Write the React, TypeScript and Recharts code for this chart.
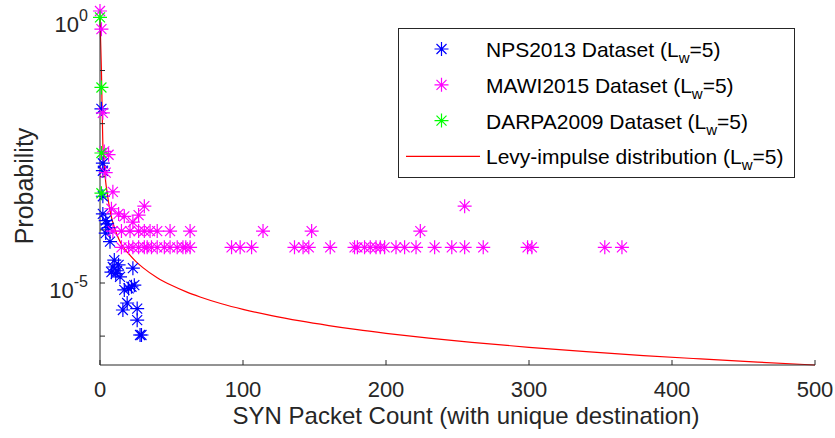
import { ComposedChart, Scatter, Line, XAxis, YAxis, Legend } from "recharts"

// axis ticks
const xTicks = [0, 100, 200, 300, 400, 500]
const yTicks = [1e-6, 1e-5, 1e-4, 1e-3, 1e-2, 1e-1, 1]
const yTickSup = ["", "-5", "", "", "", "", "0"]

// NPS2013 (blue)
const npsX = [1, 2, 2, 2, 2, 4, 5, 6, 4, 7, 10, 9, 8, 12, 11, 13, 14, 23, 20, 22, 17, 24, 19, 16, 26, 26, 28, 29]
const npsP = [1.9e-2, 1.8e-3, 1.3e-3, 4.3e-4, 2.0e-4, 1.5e-4, 1.3e-4, 1.1e-4, 8.7e-5, 6.0e-5, 2.7e-5, 2.0e-5, 1.6e-5, 1.7e-5, 1.5e-5, 2.2e-5, 1.3e-5, 1.9e-5, 7.9e-6, 8.5e-6, 7.4e-6, 9.1e-6, 4.2e-6, 3.1e-6, 3.3e-6, 2.0e-6, 1.05e-6, 1.05e-6]

// MAWI2015 (magenta)
const mawiX = [
  0, 1, 2, 3, 6, 4, 9, 8, 13, 17, 23, 27, 31, 255,
  9, 15, 21, 27, 31, 35, 40, 49, 63, 114, 148, 224,
  15, 20, 23, 27, 31, 33, 36, 40, 45, 49, 54, 58, 60, 63, 92, 98, 106, 136, 142, 146, 161, 178, 180,
  185, 189, 193, 196, 199, 207, 213, 221, 234, 246, 255, 268, 299, 302, 353, 365,
]
const mawiP = [
  1.32, 0.6, 1.6e-2, 3.0e-3, 2.6e-3, 1.2e-3, 5.2e-4, 2.5e-4, 2.0e-4, 1.8e-4, 1.4e-4, 1.9e-4, 2.8e-4, 2.8e-4,
  9.5e-5, 9.5e-5, 9.5e-5, 9.5e-5, 9.5e-5, 9.5e-5, 9.5e-5, 9.5e-5, 9.5e-5, 9.5e-5, 9.5e-5, 9.5e-5,
  4.7e-5, 4.7e-5, 4.7e-5, 4.7e-5, 4.7e-5, 4.7e-5, 4.7e-5, 4.7e-5, 4.7e-5, 4.7e-5, 4.7e-5, 4.7e-5, 4.7e-5,
  4.7e-5, 4.7e-5, 4.7e-5, 4.7e-5, 4.7e-5, 4.7e-5, 4.7e-5, 4.7e-5, 4.7e-5, 4.7e-5,
  4.7e-5, 4.7e-5, 4.7e-5, 4.7e-5, 4.7e-5, 4.7e-5, 4.7e-5, 4.7e-5, 4.7e-5, 4.7e-5, 4.7e-5, 4.7e-5, 4.7e-5,
  4.7e-5, 4.7e-5, 4.7e-5,
]

// DARPA2009 (green)
const darpaX = [0, 1, 1, 1]
const darpaP = [1.0, 4.8e-2, 2.8e-3, 4.9e-4]

// Levy-impulse fit (red)
const levyX = [0, 1, 2, 3, 4, 5, 6, 7, 8, 10, 12, 15, 20, 25, 30, 40, 50, 60, 70, 85, 100, 120, 140, 160, 180, 200, 230, 260, 300, 340, 380, 420, 460, 500]
const levyP = [
  1, 0.1, 3.98e-3, 1.58e-3, 7.94e-4, 5.01e-4, 3.31e-4, 2.34e-4, 1.74e-4, 1.12e-4, 7.94e-5, 5.37e-5, 3.57e-5,
  2.56e-5, 1.95e-5, 1.26e-5, 9.04e-6, 6.87e-6, 5.46e-6, 4.07e-6, 3.19e-6, 2.43e-6, 1.93e-6, 1.58e-6, 1.32e-6,
  1.13e-6, 9.16e-7, 7.62e-7, 6.15e-7, 5.09e-7, 4.31e-7, 3.72e-7, 3.24e-7, 2.86e-7,
]

const yDomain = [2.86e-7, 1.32]

const toPts = (xs: number[], ps: number[]) => xs.map((x, i) => ({ x, p: ps[i] }))

const nps = toPts(npsX, npsP)
const mawi = toPts(mawiX, mawiP)
const darpa = toPts(darpaX, darpaP)
const levy = toPts(levyX, levyP)

const AX = "#262626"

function Star({ cx, cy, color }: { cx: number; cy: number; color: string }) {
  const r = 7
  const d = 5
  return (
    <path
      d={`M${cx - r},${cy}H${cx + r}M${cx},${cy - r}V${cy + r}M${cx - d},${cy - d}L${cx + d},${cy + d}M${cx - d},${cy + d}L${cx + d},${cy - d}`}
      stroke={color}
      strokeWidth={1.2}
      fill="none"
    />
  )
}

function YTick(props: any) {
  const { x, y, payload } = props
  const sup = yTickSup[yTicks.indexOf(payload.value)]
  if (!sup) return <g />
  return (
    <text x={x} y={y} textAnchor="end" fill={AX} fontSize={22}>
      <tspan dy={15}>10</tspan>
      <tspan dy={-11} fontSize={16}>{sup}</tspan>
    </text>
  )
}

const legendRows = [
  { name: "NPS2013 Dataset", color: "#0000ff", line: false },
  { name: "MAWI2015 Dataset", color: "#ff00ff", line: false },
  { name: "DARPA2009 Dataset", color: "#00ff00", line: false },
  { name: "Levy-impulse distribution", color: "#ff0000", line: true },
]

function LegendBox() {
  return (
    <svg width={398} height={151} style={{ display: "block" }}>
      <rect x={0.5} y={0.5} width={396} height={149} fill="#fff" stroke={AX} />
      {legendRows.map((r, i) => {
        const cy = 21 + i * 35.8
        return (
          <g key={r.name}>
            {r.line ? (
              <line x1={8} x2={82} y1={cy} y2={cy} stroke={r.color} strokeWidth={1.2} />
            ) : (
              <Star cx={43.5} cy={cy} color={r.color} />
            )}
            <text x={88} y={cy + 8} fontSize={21} fill="#000">
              {r.name} (L
              <tspan dy={6} fontSize={15}>w</tspan>
              <tspan dy={-6}>=5)</tspan>
            </text>
          </g>
        )
      })}
    </svg>
  )
}

export default function App() {
  return (
    <div style={{ position: "absolute", left: 0, top: 0, fontFamily: "'Liberation Sans', Arial, sans-serif" }}>
      <ComposedChart width={835} height={438} margin={{ top: 11, right: 20, bottom: 0, left: 0 }}>
        <XAxis
          type="number"
          dataKey="x"
          domain={[0, 500]}
          ticks={xTicks}
          interval={0}
          height={73}
          stroke={AX}
          tickSize={-5}
          tickMargin={21}
          tick={{ fill: AX, fontSize: 22 }}
          label={{
            content: () => (
              <text x={466} y={424} textAnchor="middle" fill={AX} fontSize={24}>
                SYN Packet Count (with unique destination)
              </text>
            ),
          }}
        />
        <XAxis xAxisId="top" orientation="top" type="number" domain={[0, 500]} ticks={xTicks} interval={0} height={0} stroke={AX} tickSize={-5} tick={false} />
        <YAxis
          dataKey="p"
          scale="log"
          domain={yDomain}
          ticks={yTicks}
          interval={0}
          width={100}
          stroke={AX}
          tickSize={-5}
          tickMargin={17}
          tick={<YTick />}
          label={{
            content: () => (
              <text x={33} y={186} transform="rotate(-90 33 186)" textAnchor="middle" fill={AX} fontSize={25}>
                Probability
              </text>
            ),
          }}
        />
        <YAxis yAxisId="right" orientation="right" scale="log" domain={yDomain} ticks={yTicks} interval={0} width={0} stroke={AX} tickSize={-5} tick={false} />
        <Scatter data={nps} dataKey="p" isAnimationActive={false} shape={(p: any) => <Star cx={p.cx} cy={p.cy} color="#0000ff" />} />
        <Scatter data={mawi} dataKey="p" isAnimationActive={false} shape={(p: any) => <Star cx={p.cx} cy={p.cy} color="#ff00ff" />} />
        <Scatter data={darpa} dataKey="p" isAnimationActive={false} shape={(p: any) => <Star cx={p.cx} cy={p.cy} color="#00ff00" />} />
        <Line data={levy} dataKey="p" type="monotone" stroke="#ff0000" strokeWidth={1.2} dot={false} isAnimationActive={false} />
        <Legend
          layout="vertical"
          align="center"
          verticalAlign="middle"
          content={() => <LegendBox />}
          wrapperStyle={{ left: 398, top: 28, width: 398, height: 151 }}
        />
      </ComposedChart>
    </div>
  )
}
